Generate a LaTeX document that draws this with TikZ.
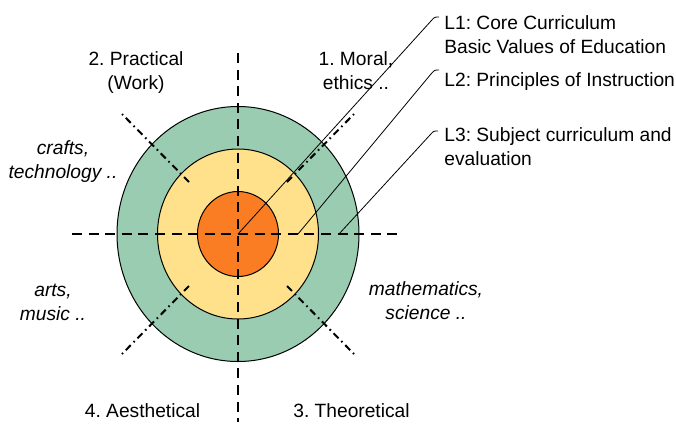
\documentclass[tikz,border=0pt]{standalone}
\usepackage{fontspec}
\setmainfont{Liberation Sans}
\frenchspacing

\definecolor{ringgreen}{RGB}{153,204,176}
\definecolor{ringyellow}{RGB}{255,225,140}
\definecolor{coreorange}{RGB}{250,125,35}

\begin{document}
\begin{tikzpicture}[
    x=0.5pt, y=-0.5pt,
    ring/.style={draw=black,line width=0.5pt},
    cross/.style={line width=1pt,dash pattern=on 5pt off 3.3pt},
    diag/.style={line width=1pt,dash pattern=on 3.5pt off 2pt on 0.8pt off 2pt},
    leader/.style={line width=0.4pt},
    lbl/.style={font=\fontsize{9.6}{12}\selectfont,align=center,anchor=base,inner sep=0pt},
    area/.style={lbl,font=\fontsize{9.6}{12}\selectfont\itshape},
    level/.style={lbl,align=left,anchor=base west}
]
    \useasboundingbox (0,0) rectangle (676,425);
    \coordinate (c) at (238,234);

    % Rings
    \draw[ring,fill=ringgreen] (c) ellipse [x radius=121,y radius=127.5];
    \draw[ring,fill=ringyellow] (c) ellipse [x radius=80.5,y radius=85];
    \draw[ring,fill=coreorange] (c) ellipse [x radius=40.5,y radius=42.5];

    % Dashed cross and diagonals
    \draw[cross] (72,234) -- (398,234);
    \draw[cross] (238,53) -- (238,422);
    \foreach \sx/\sy in {1/1,1/-1,-1/1,-1/-1}
        \draw[diag] (c) ++(\sx*49,\sy*52) -- ++(\sx*67,\sy*68);

    % Leaders
    \coordinate (l2s) at (298,234);
    \coordinate (l3s) at (339,234);
    \coordinate (l1e) at (439,17);
    \coordinate (l2e) at (439,70);
    \coordinate (l3e) at (438,131);
    \draw[leader] (c) -- (431,21) .. controls (434.5,17) .. (l1e);
    \draw[leader] (l2s) -- (431,74) .. controls (434.5,70) .. (l2e);
    \draw[leader] (l3s) -- (430,135) .. controls (433.5,131) .. (l3e);

    % Labels (base = last line)
    \node[lbl] (practical) at (136,89) {2. Practical\\(Work)};
    \node[lbl] (moral) at (356,89) {1. Moral,\\ethics ..};
    \node[area] (crafts) at (63,178) {crafts,\\technology ..};
    \node[area] (arts) at (53,320) {arts,\\music ..};
    \node[area] (maths) at (426,319) {mathematics,\\science ..};
    \node[lbl] (aesth) at (142.5,417) {4. Aesthetical};
    \node[lbl] (theor) at (351.5,417) {3. Theoretical};
    \node[level] (lone) at (444,53) {L1: Core Curriculum\\Basic Values of Education};
    \node[level] (ltwo) at (444,86) {L2: Principles of Instruction};
    \node[level] (lthree) at (444,165) {L3: Subject curriculum and\\evaluation};
\end{tikzpicture}
\end{document}
